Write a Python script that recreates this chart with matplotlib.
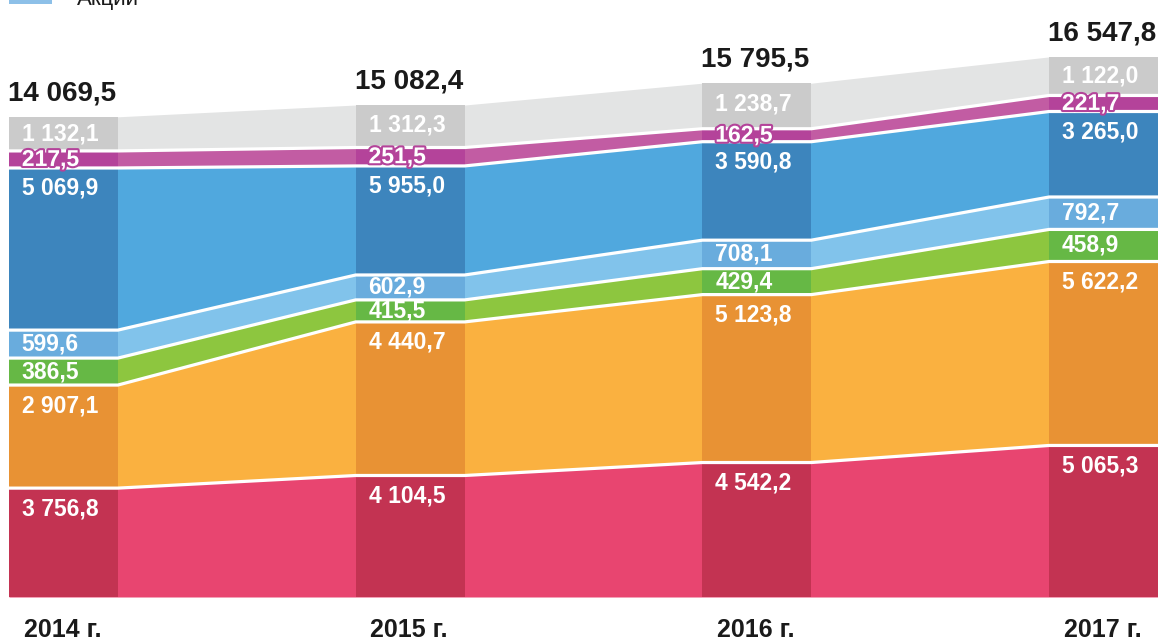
import matplotlib
matplotlib.use('Agg')
import matplotlib.pyplot as plt
import matplotlib.patheffects as pe
import numpy as np

years = ['2014 г.', '2015 г.', '2016 г.', '2017 г.']
totals = [14069.5, 15082.4, 15795.5, 16547.8]

# values printed on the chart, bottom layer first
lab_red = [3756.8, 4104.5, 4542.2, 5065.3]
lab_orange = [2907.1, 4440.7, 5123.8, 5622.2]
lab_green = [386.5, 415.5, 429.4, 458.9]
lab_lblue = [599.6, 602.9, 708.1, 792.7]
lab_blue = [5069.9, 5955.0, 3590.8, 3265.0]
lab_purple = [217.5, 251.5, 162.5, 221.7]
lab_gray = [1132.1, 1312.3, 1238.7, 1122.0]

# band heights as they are drawn in the picture (the original is not to scale)
h_red = [3190, 3560, 3940, 4440]
h_orange = [3020, 4500, 4920, 5390]
h_green = [790, 645, 760, 940]
h_lblue = [820, 730, 835, 950]
h_blue = [4750, 3195, 2885, 2505]
h_purple = [500, 540, 380, 470]
h_gray = [1000, 1245, 1335, 1130]

layers = [
    (h_red, lab_red, '#C33352', '#E84570'),
    (h_orange, lab_orange, '#E89234', '#FAB140'),
    (h_green, lab_green, '#66B845', '#8DC63F'),
    (h_lblue, lab_lblue, '#69ACDD', '#81C3EB'),
    (h_blue, lab_blue, '#3D85BD', '#50A8DE'),
    (h_purple, lab_purple, '#B4439A', '#C25CA3'),
    (h_gray, lab_gray, '#CBCBCB', '#E3E4E4'),
]

def fmt(v):
    return f'{v:,.1f}'.replace(',', ' ').replace('.', ',')

plt.rcParams['font.family'] = ['Liberation Sans', 'DejaVu Sans']

fig = plt.figure(figsize=(11.58, 6.42), dpi=100)
ax = fig.add_axes([0, 0, 1, 1])
ax.set_xlim(-0.183, 3.157)
ax.set_ylim(-1318.5, 17492)
ax.axis('off')

x = np.arange(len(years))
w = 0.314
xs = np.ravel([[i - w / 2, i + w / 2] for i in x])

bottom = np.zeros(len(years))
bounds = []
for h, lab, dark, light in layers:
    top = bottom + np.array(h)
    ax.fill_between(xs, np.repeat(bottom, 2), np.repeat(top, 2), color=light, lw=0)
    ax.bar(x, h, w, bottom=bottom, color=dark, lw=0)
    for i in x:
        mid = (top[i] + bottom[i]) / 2
        y = max(mid, top[i] - 600)
        t = ax.text(i - 0.12, y, fmt(lab[i]), color='white', fontsize=16.5,
                    fontweight='bold', ha='left', va='center')
        if dark == '#B4439A':
            t.set_path_effects([pe.withStroke(linewidth=3, foreground=dark)])
    bounds.append(top.copy())
    bottom = top

# white separators between bands
for b in bounds[:-1]:
    ax.plot(xs, np.repeat(b, 2), color='white', lw=2.3, solid_capstyle='butt')

for i in x:
    ax.annotate(fmt(totals[i]), (i - 0.16, bottom[i]), xytext=(0, 12),
                textcoords='offset points', fontsize=20, fontweight='bold',
                color='#1a1a1a', ha='left', va='baseline')
    ax.text(i - 0.115, -967, years[i], fontsize=18, fontweight='bold',
            color='#1a1a1a', ha='left', va='center')

# legend, cut off by the top edge
fig.patches.append(plt.Rectangle((9 / 1158, 1 - 4 / 642), 43 / 1158, 10 / 642,
                                 transform=fig.transFigure, color='#8DC0E8', lw=0))
fig.text(77 / 1158, 1 - 5 / 642, 'Акции', fontsize=16, color='#1a1a1a',
         ha='left', va='baseline')

plt.savefig('out.png', dpi=100)
